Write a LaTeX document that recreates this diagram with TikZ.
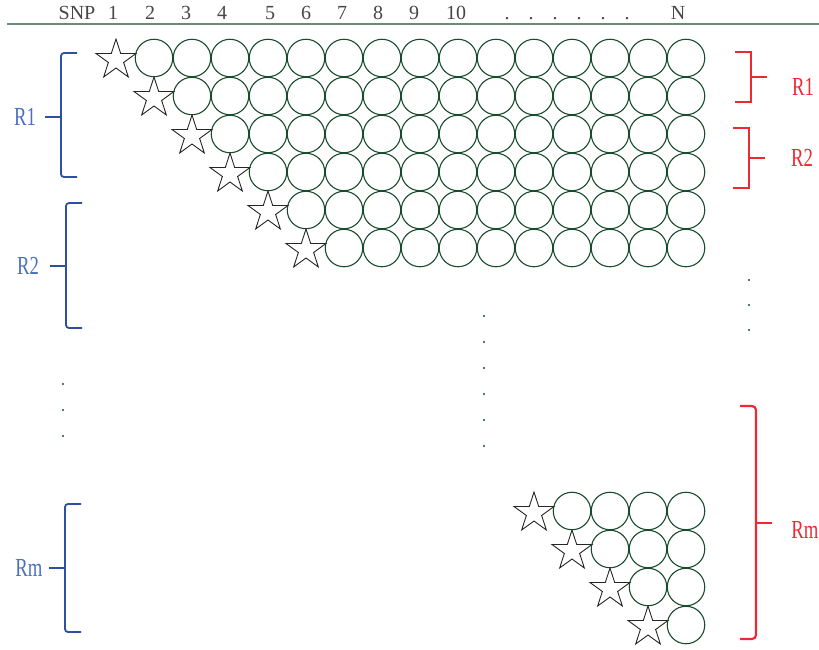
\documentclass[tikz,border=0pt]{standalone}
\usepackage{fontspec}
\setmainfont{Liberation Serif}
\newfontfamily\narrowfont{Liberation Serif}[FakeStretch=0.72]
\usetikzlibrary{shapes.geometric}
\definecolor{snpgreen}{RGB}{25,75,45}
\definecolor{rulegreen}{RGB}{105,140,120}
\definecolor{headgray}{RGB}{70,70,70}
\definecolor{brkblue}{RGB}{45,80,165}
\definecolor{labblue}{RGB}{75,110,190}
\definecolor{brkred}{RGB}{240,40,50}
\tikzset{
  snp/.style={circle,draw=snpgreen,line width=1.1pt,minimum size=37.5pt,inner sep=0pt},
  seed/.style={star,star points=5,star point ratio=2.618,draw=black!85,line width=0.9pt,
    minimum size=42pt,inner sep=0pt},
  hd/.style={font=\fontsize{20}{22}\selectfont,text=headgray,anchor=base,inner sep=0pt},
  lbl/.style={font=\narrowfont\fontsize{26}{28}\selectfont,inner sep=0pt},
  vdot/.style={circle,fill=snpgreen,inner sep=0pt,minimum size=2.4pt},
  bluebrk/.style={brkblue,line width=1.8pt,rounded corners=3pt},
  redbrk/.style={brkred,line width=1.3pt},
}
% x, top, mid, bottom
\newcommand\bluebrk[4]{%
  \draw[bluebrk] (#1+16,#2) -- (#1,#2) -- (#1,#4) -- (#1+16,#4);
  \draw[bluebrk] (#1-16,#3) -- (#1,#3);}
\newcommand\redbrk[5][]{%
  \draw[redbrk,#1] (#2-16,#3) -- (#2,#3) -- (#2,#5) -- (#2-16,#5);
  \draw[redbrk,#1] (#2,#4) -- (#2+16,#4);}

\begin{document}
\begin{tikzpicture}[x=1pt,y=-1pt]
  \useasboundingbox (0,0) rectangle (819,649);
  % header
  \foreach \t/\x in {SNP/77,1/113,2/150,3/186,4/222,5/270,6/306,7/342,8/378,9/414,10/456,N/678}
    \node[hd] (h-\t) at (\x,19) {\t};
  \foreach \x [count=\i] in {507,531,555,579,603,627}
    \node[hd] (hdot\i) at (\x,19) {.};
  \draw[rulegreen,line width=1.6pt] (7,24) -- (819,24);
  % upper block, row r starts at column r
  \foreach \r in {1,...,6}{
    \pgfmathsetmacro\y{58+38*(\r-1)}
    \node[seed] (s\r) at ({154+38*(\r-2)},\y+2) {};
    \foreach \c in {\r,...,15}
      \node[snp] (c\r-\c) at ({154+38*(\c-1)},\y) {};
  }
  % lower block
  \foreach \k in {1,...,4}{
    \pgfmathsetmacro\y{511+38*(\k-1)}
    \node[seed] (sm\k) at ({154+38*(\k+9)},\y+2) {};
    \foreach \c in {\the\numexpr\k+11\relax,...,15}
      \node[snp] (cm\k-\c) at ({154+38*(\c-1)},\y) {};
  }
  % ellipses
  \foreach \y [count=\i] in {384,410,436} \node[vdot] (ld\i) at (63,\y) {};
  \foreach \y [count=\i] in {316,342,368,394,420,446} \node[vdot] (md\i) at (484,\y) {};
  \foreach \y [count=\i] in {280,305,330} \node[vdot] (rd\i) at (749,\y) {};
  % left brackets
  \bluebrk{61}{53}{117}{177}
  \bluebrk{66}{203}{266}{328}
  \bluebrk{65}{504}{568}{632}
  \node[lbl,text=labblue] (lr1) at (25,117) {R1};
  \node[lbl,text=labblue] (lr2) at (28,266) {R2};
  \node[lbl,text=labblue] (lrm) at (29,568) {Rm};
  % right brackets
  \redbrk{751}{52}{77}{102}
  \redbrk{749}{128}{158}{188}
  \redbrk[line width=2.2pt,rounded corners=4pt]{756}{406}{523}{639}
  \node[lbl,text=brkred] (rr1) at (803,87) {R1};
  \node[lbl,text=brkred] (rr2) at (802,158) {R2};
  \node[lbl,text=brkred] (rrm) at (805,530) {Rm};
\end{tikzpicture}
\end{document}
